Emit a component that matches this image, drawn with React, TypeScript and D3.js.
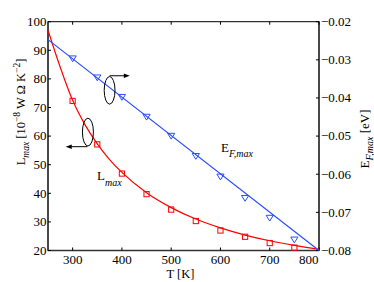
import React from "react";
import * as d3 from "d3";

const temps = [300, 350, 400, 450, 500, 550, 600, 650, 700, 750];
const lMax = [72.3, 57.1, 46.9, 39.7, 34.3, 30.3, 27.0, 24.8, 22.6, 21.0];
const eFMax = [-0.0296, -0.0346, -0.0397, -0.0449, -0.0499, -0.0552, -0.0606, -0.0662, -0.0714, -0.0771];

const lFitT = [250, 275, 300, 325, 350, 375, 400, 450, 500, 550, 600, 650, 700, 750, 800];
const lFitV = [97, 84, 72.5, 64, 57.3, 51.8, 47.3, 40.2, 35, 31, 27.9, 25.4, 23.4, 21.8, 20.4];

const eFitT = [250, 800];
const eFitV = [-0.0247, -0.08];

const xTicks = [300, 400, 500, 600, 700, 800];
const yLeftTicks = [20, 30, 40, 50, 60, 70, 80, 90, 100];
const yRightTicks = [-0.02, -0.03, -0.04, -0.05, -0.06, -0.07, -0.08];

const RED = "#ff0000";
const BLUE = "#2a4cff";
const FONT = "Liberation Serif, Times New Roman, DejaVu Serif, serif";

export default function App() {
  const W = 374, H = 282;
  const x = d3.scaleLinear().domain([250, 800]).range([48, 319]);
  const yL = d3.scaleLinear().domain([20, 100]).range([250.5, 21.7]);
  const yR = d3.scaleLinear().domain([-0.08, -0.02]).range([250.5, 21.7]);

  const redLine = d3.line<number>()
    .x((_, i) => x(lFitT[i]))
    .y((d) => yL(d))
    .curve(d3.curveMonotoneX)(lFitV) || "";
  const blueLine = d3.line<number>()
    .x((_, i) => x(eFitT[i]))
    .y((d) => yR(d))(eFitV) || "";

  const x0 = x.range()[0], x1 = x.range()[1];
  const yTop = yL.range()[1], yBot = yL.range()[0];
  const tl = 3;
  const fmtR = (v: number) => (v < 0 ? "\u2212" : "") + Math.abs(v).toFixed(2);

  const e1 = { cx: x(375), cy: yL(76) };
  const e2 = { cx: x(331), cy: yL(61.4) };
  const a1y = yL(81.1), a1x0 = x(375), a1x1 = x(416);
  const a2y = yL(56.3), a2x0 = x(330), a2x1 = x(286);

  return (
    <svg width={W} height={H} style={{ position: "absolute", left: 0, top: 0, display: "block", background: "#fff", fontFamily: FONT }}>
      <rect x={x0} y={yTop} width={x1 - x0} height={yBot - yTop} fill="none" stroke="#000" strokeWidth={1} />
      <line x1={x0} x2={x1} y1={yBot} y2={yBot} stroke="#333" strokeWidth={1.4} />
      <line x1={x0} x2={x0} y1={yTop} y2={yBot} stroke="#333" strokeWidth={1.4} />
      <line x1={x1} x2={x1} y1={yTop} y2={yBot} stroke="#333" strokeWidth={1.4} />

      {xTicks.map((t) => (
        <g key={"x" + t}>
          <line x1={x(t)} x2={x(t)} y1={yBot} y2={yBot - tl} stroke="#000" />
          <line x1={x(t)} x2={x(t)} y1={yTop} y2={yTop + tl} stroke="#000" />
          <text x={t === 800 ? x(t) - 0.5 : x(t)} y={263.5} textAnchor={t === 800 ? "end" : "middle"} fontSize={13}>{t}</text>
        </g>
      ))}
      {yLeftTicks.map((t) => (
        <g key={"yl" + t}>
          <line x1={x0} x2={x0 + tl} y1={yL(t)} y2={yL(t)} stroke="#000" />
          <text x={46.5} y={yL(t) + 4.3} textAnchor="end" fontSize={13}>{t}</text>
        </g>
      ))}
      {yRightTicks.map((t) => (
        <g key={"yr" + t}>
          <line x1={x1} x2={x1 - tl} y1={yR(t)} y2={yR(t)} stroke="#000" />
          <text x={321} y={yR(t) + 4.3} textAnchor="start" fontSize={13}>{fmtR(t)}</text>
        </g>
      ))}

      <path d={redLine} fill="none" stroke={RED} strokeWidth={1.2} />
      <path d={blueLine} fill="none" stroke={BLUE} strokeWidth={1.2} />

      {temps.map((t, i) => (
        <rect key={"s" + t} x={x(t) - 2.6} y={yL(lMax[i]) - 2.6} width={5.2} height={5.2}
          fill="none" stroke={RED} strokeWidth={1} />
      ))}
      {temps.map((t, i) => {
        const cx = x(t), cy = yR(eFMax[i]);
        const d = `M${cx - 3.6},${cy - 2.4}L${cx + 3.6},${cy - 2.4}L${cx},${cy + 3.4}Z`;
        return <path key={"t" + t} d={d} fill="none" stroke={BLUE} strokeWidth={1} />;
      })}

      <ellipse cx={e1.cx} cy={e1.cy} rx={5.4} ry={13.8} fill="none" stroke="#000" strokeWidth={1} />
      <line x1={a1x0} x2={a1x1 - 5} y1={a1y} y2={a1y} stroke="#000" strokeWidth={1} />
      <path d={`M${a1x1},${a1y}L${a1x1 - 6},${a1y - 2.3}L${a1x1 - 6},${a1y + 2.3}Z`} fill="#000" />

      <ellipse cx={e2.cx} cy={e2.cy} rx={5.5} ry={13.9} fill="none" stroke="#000" strokeWidth={1} />
      <line x1={a2x0} x2={a2x1 + 5} y1={a2y} y2={a2y} stroke="#000" strokeWidth={1} />
      <path d={`M${a2x1},${a2y}L${a2x1 + 6},${a2y - 2.3}L${a2x1 + 6},${a2y + 2.3}Z`} fill="#000" />

      <text x={x(349.5)} y={yL(44.6)} fontSize={13}>
        L<tspan fontSize={10} fontStyle="italic" dy={5.5}>max</tspan>
      </text>
      <text x={x(601)} y={yR(-0.0543)} fontSize={13}>
        E<tspan fontSize={10} fontStyle="italic" dy={4.5}>F,max</tspan>
      </text>

      <text x={180.5} y={278} textAnchor="middle" fontSize={12.5}>T [K]</text>
      <text transform={`translate(25,112) rotate(-90)`} textAnchor="middle" fontSize={12.5}>
        L<tspan fontSize={9.5} fontStyle="italic" dy={4}>max</tspan>
        <tspan dy={-4}> [10</tspan>
        <tspan fontSize={9.5} dy={-5}>{"\u22128"}</tspan>
        <tspan dy={5}> W Ω K</tspan>
        <tspan fontSize={9.5} dy={-5}>{"\u22122"}</tspan>
        <tspan dy={5}>]</tspan>
      </text>
      <text transform={`translate(369,139) rotate(-90)`} textAnchor="middle" fontSize={13}>
        E<tspan fontSize={10} fontStyle="italic" dy={4}>F,max</tspan>
        <tspan dy={-4}> [eV]</tspan>
      </text>
    </svg>
  );
}
